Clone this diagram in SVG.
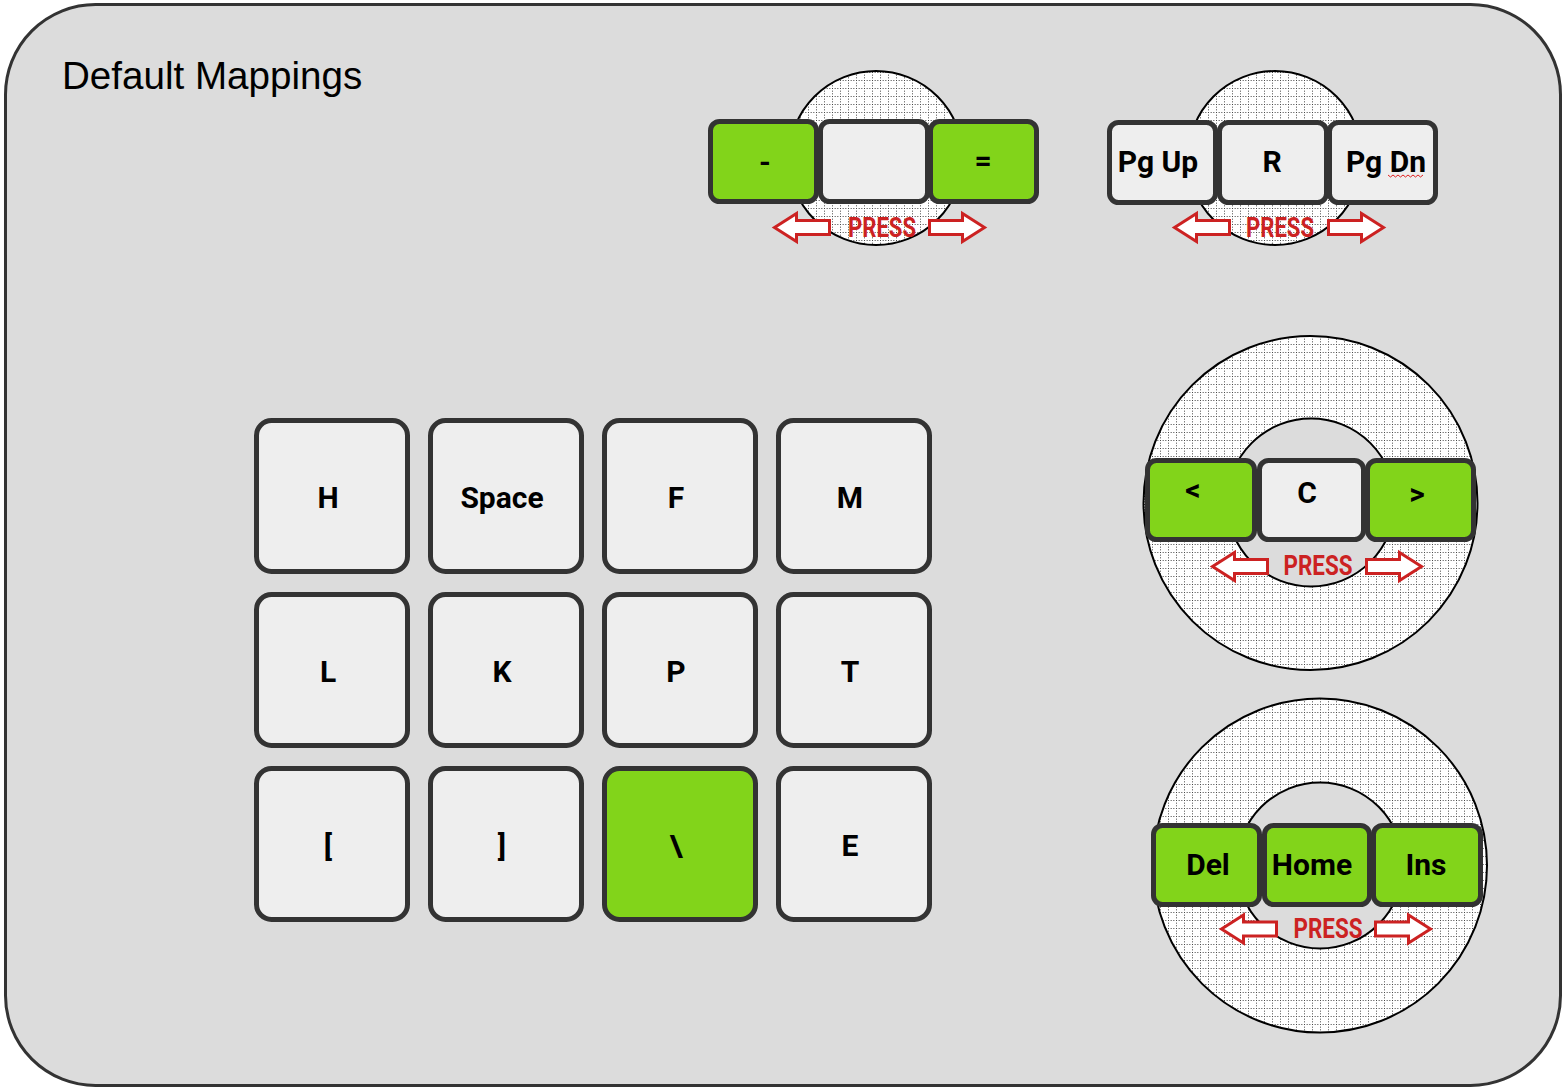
<svg xmlns="http://www.w3.org/2000/svg" width="1566" height="1092" viewBox="0 0 1566 1092">
<style>
.key{fill:#eeeeee;stroke:#333333;stroke-width:5}
.g{fill:#82d41a}
.lbl{font-family:Roboto,"DejaVu Sans",sans-serif;font-weight:bold;font-size:30px;fill:#000;text-anchor:middle}
.press{font-family:Roboto,"DejaVu Sans",sans-serif;font-weight:bold;font-size:27px;fill:#cc2222;text-anchor:middle}
.arr{fill:#ffffff;stroke:#cc2222;stroke-width:3;stroke-linejoin:miter}
.enc{fill:url(#grid);stroke:#000;stroke-width:2}
.inner{fill:#dcdcdc;stroke:#000;stroke-width:2}
</style>
<defs>
<pattern id="grid" width="8" height="8" patternUnits="userSpaceOnUse">
<rect width="8" height="8" fill="#ffffff"/>
<line x1="0" y1="0.5" x2="8" y2="0.5" stroke="#444" stroke-width="1" stroke-dasharray="1,1.67"/>
<line x1="0.5" y1="0" x2="0.5" y2="8" stroke="#444" stroke-width="1" stroke-dasharray="1,1.67"/>
</pattern>
<path id="la" d="M0,14 L22,0 L22,7 L55,7 L55,21 L22,21 L22,28 Z"/>
<path id="ra" d="M55,14 L33,0 L33,7 L0,7 L0,21 L33,21 L33,28 Z"/>
</defs>
<rect x="0" y="0" width="1566" height="1092" fill="#ffffff"/>
<rect id="board" x="5.5" y="4.5" width="1555" height="1081" rx="90" fill="#dcdcdc" stroke="#333333" stroke-width="3"/>
<text x="62" y="89" font-family="'Liberation Sans',Arial,sans-serif" font-size="38.6" fill="#000">Default Mappings</text>

<g id="keys">
<g id="k-H"><rect class="key" x="256.5" y="420.5" width="151" height="151" rx="15"/><text class="lbl" x="328" y="508">H</text></g>
<g id="k-Space"><rect class="key" x="430.5" y="420.5" width="151" height="151" rx="15"/><text class="lbl" x="502" y="508">Space</text></g>
<g id="k-F"><rect class="key" x="604.5" y="420.5" width="151" height="151" rx="15"/><text class="lbl" x="676" y="508">F</text></g>
<g id="k-M"><rect class="key" x="778.5" y="420.5" width="151" height="151" rx="15"/><text class="lbl" x="850" y="508">M</text></g>
<g id="k-L"><rect class="key" x="256.5" y="594.5" width="151" height="151" rx="15"/><text class="lbl" x="328" y="682">L</text></g>
<g id="k-K"><rect class="key" x="430.5" y="594.5" width="151" height="151" rx="15"/><text class="lbl" x="502" y="682">K</text></g>
<g id="k-P"><rect class="key" x="604.5" y="594.5" width="151" height="151" rx="15"/><text class="lbl" x="676" y="682">P</text></g>
<g id="k-T"><rect class="key" x="778.5" y="594.5" width="151" height="151" rx="15"/><text class="lbl" x="850" y="682">T</text></g>
<g id="k-lb"><rect class="key" x="256.5" y="768.5" width="151" height="151" rx="15"/><text class="lbl" x="328" y="856">[</text></g>
<g id="k-rb"><rect class="key" x="430.5" y="768.5" width="151" height="151" rx="15"/><text class="lbl" x="502" y="856">]</text></g>
<g id="k-bs"><rect class="key g" x="604.5" y="768.5" width="151" height="151" rx="15"/><text class="lbl" x="676" y="856">\</text></g>
<g id="k-E"><rect class="key" x="778.5" y="768.5" width="151" height="151" rx="15"/><text class="lbl" x="850" y="856">E</text></g>
</g>

<g id="enc1">
<circle class="enc" cx="876" cy="158" r="87"/>
<rect class="key g" x="710.5" y="121.5" width="106" height="80" rx="9"/>
<rect class="key" x="820.5" y="121.5" width="107" height="80" rx="9"/>
<rect class="key g" x="930.5" y="121.5" width="106" height="80" rx="9"/>
<text class="lbl" x="765" y="172" font-size="26">-</text>
<text class="lbl" x="983" y="171" font-size="24">=</text>
<use href="#la" class="arr" x="774.5" y="213.5"/>
<use href="#ra" class="arr" x="929.5" y="213.5"/>
<text class="press" x="882" y="237" textLength="68" lengthAdjust="spacingAndGlyphs">PRESS</text>
</g>

<g id="enc2">
<circle class="enc" cx="1275" cy="158" r="87"/>
<rect class="key" x="1109.5" y="122.5" width="106" height="80" rx="9"/>
<rect class="key" x="1219.5" y="122.5" width="107" height="80" rx="9"/>
<rect class="key" x="1329.5" y="122.5" width="106" height="80" rx="9"/>
<text class="lbl" x="1158" y="172">Pg Up</text>
<text class="lbl" x="1272" y="172">R</text>
<text class="lbl" x="1386" y="172">Pg Dn</text>
<path d="M1388,175 l2.5,2 l2.5,-2 l2.5,2 l2.5,-2 l2.5,2 l2.5,-2 l2.5,2 l2.5,-2 l2.5,2 l2.5,-2 l2.5,2 l2.5,-2 l2.5,2 l2.5,-2" fill="none" stroke="#e02020" stroke-width="1"/>
<use href="#la" class="arr" x="1174.5" y="213.5"/>
<use href="#ra" class="arr" x="1328.5" y="213.5"/>
<text class="press" x="1280" y="237" textLength="68" lengthAdjust="spacingAndGlyphs">PRESS</text>
</g>

<g id="enc3">
<circle class="enc" cx="1310.5" cy="503" r="167"/>
<circle class="inner" cx="1311" cy="502.5" r="84"/>
<rect class="key g" x="1147.5" y="460.5" width="107" height="79" rx="9"/>
<rect class="key" x="1259.5" y="460.5" width="104" height="79" rx="9"/>
<rect class="key g" x="1367.5" y="460.5" width="106" height="79" rx="9"/>
<text class="lbl" x="1193" y="500" font-size="17">&lt;</text>
<text class="lbl" x="1307" y="503">C</text>
<text class="lbl" x="1417" y="504" font-size="17">&gt;</text>
<use href="#la" class="arr" x="1212.5" y="552.5"/>
<use href="#ra" class="arr" x="1366.5" y="552.5"/>
<text class="press" x="1318" y="575" textLength="69" lengthAdjust="spacingAndGlyphs">PRESS</text>
</g>

<g id="enc4">
<circle class="enc" cx="1320" cy="865.5" r="167"/>
<circle class="inner" cx="1320" cy="865.5" r="83"/>
<rect class="key g" x="1153.5" y="825.5" width="106" height="79" rx="9"/>
<rect class="key g" x="1264.5" y="825.5" width="105" height="79" rx="9"/>
<rect class="key g" x="1373.5" y="825.5" width="107" height="79" rx="9"/>
<text class="lbl" x="1208" y="875">Del</text>
<text class="lbl" x="1312" y="875">Home</text>
<text class="lbl" x="1426" y="875">Ins</text>
<use href="#la" class="arr" x="1221.5" y="915"/>
<use href="#ra" class="arr" x="1375.5" y="915"/>
<text class="press" x="1328" y="938" textLength="69" lengthAdjust="spacingAndGlyphs">PRESS</text>
</g>

<g id="connectors"/>
</svg>
